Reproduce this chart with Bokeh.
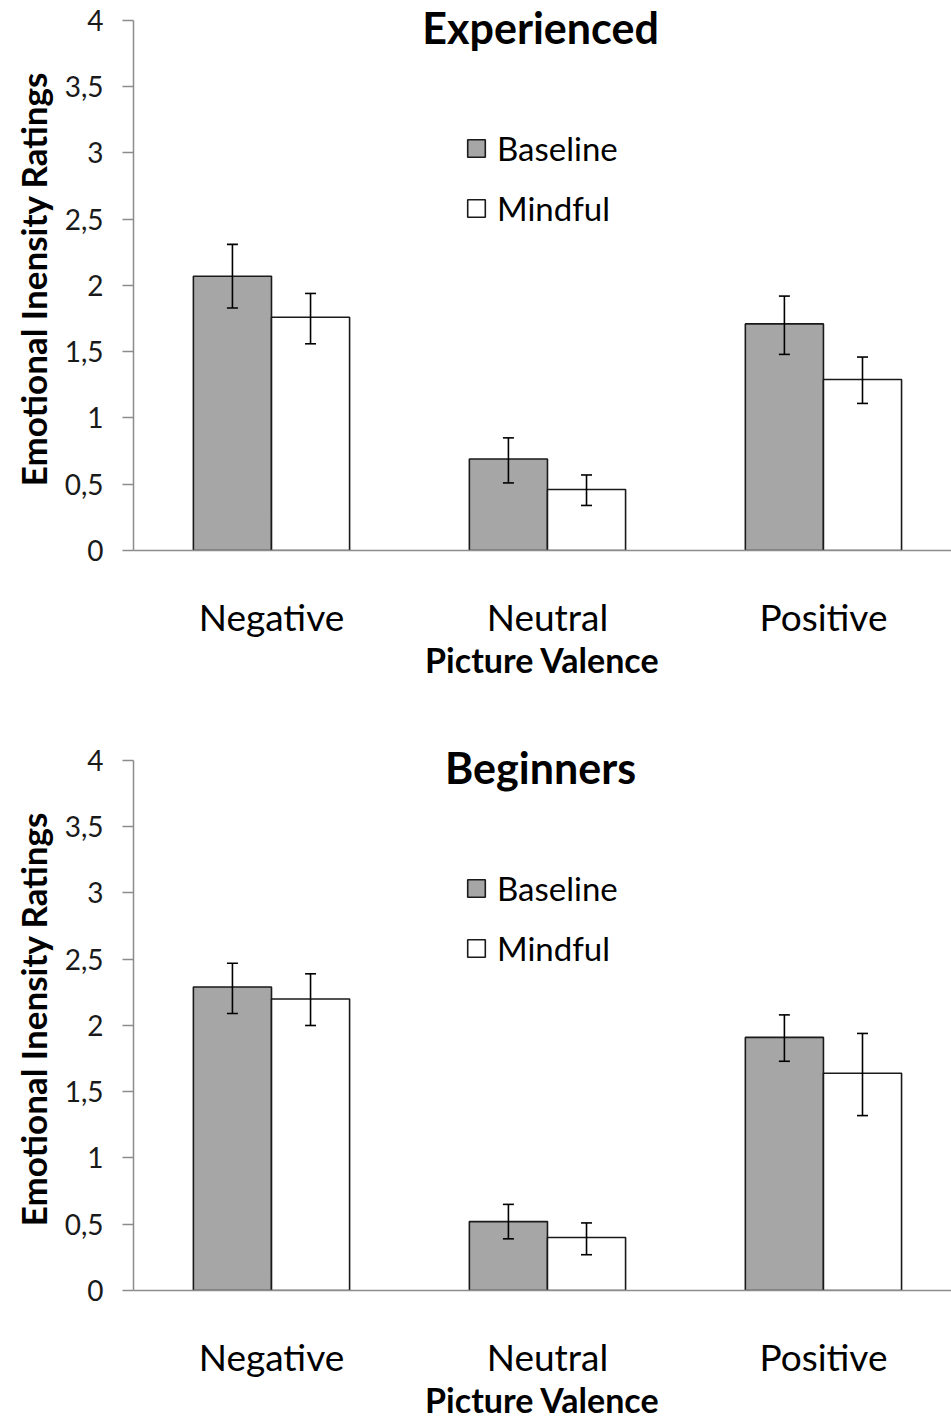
from bokeh.plotting import figure
from bokeh.layouts import column
from bokeh.models import (ColumnDataSource, Whisker, TeeHead, Legend, LegendItem,
                          FixedTicker, CustomJSTickFormatter, Label, Range1d)
from bokeh.embed import file_html
from bokeh.resources import INLINE
import numpy as np

categories = ["Negative", "Neutral", "Positive"]
series = ["Baseline", "Mindful"]
y_ticks = [0, 0.5, 1, 1.5, 2, 2.5, 3, 3.5, 4]

exp_baseline = [2.07, 0.69, 1.71]
exp_baseline_lo = [1.83, 0.51, 1.48]
exp_baseline_hi = [2.31, 0.85, 1.92]
exp_mindful = [1.76, 0.46, 1.29]
exp_mindful_lo = [1.56, 0.34, 1.11]
exp_mindful_hi = [1.94, 0.57, 1.46]

beg_baseline = [2.29, 0.52, 1.91]
beg_baseline_lo = [2.09, 0.39, 1.73]
beg_baseline_hi = [2.47, 0.65, 2.08]
beg_mindful = [2.20, 0.40, 1.64]
beg_mindful_lo = [2.00, 0.27, 1.32]
beg_mindful_hi = [2.39, 0.51, 1.94]

FONT = "Lato"
BAR_W = 0.283
OFFSET = BAR_W / 2
Y_TOP = 4.098  # a little headroom above 4 so the title fits inside the frame


def make_chart(title, base, base_lo, base_hi, mind, mind_lo, mind_hi,
               height, top_border, bottom_border):
    centers = np.arange(len(categories)) + 0.5
    p = figure(width=951, height=height, output_backend="svg",
               toolbar_location=None, min_border_left=133, min_border_right=0,
               min_border_top=top_border, min_border_bottom=bottom_border,
               x_range=Range1d(0, 2.964), y_range=Range1d(0, Y_TOP))
    p.outline_line_color = None
    p.grid.visible = False
    p.background_fill_color = "white"

    src_b = ColumnDataSource(dict(x=centers - OFFSET, top=base, lo=base_lo, hi=base_hi))
    src_m = ColumnDataSource(dict(x=centers + OFFSET, top=mind, lo=mind_lo, hi=mind_hi))

    rb = p.vbar(x="x", top="top", bottom=0, width=BAR_W, source=src_b,
                fill_color="#a6a6a6", line_color="#1a1a1a", line_width=1.6)
    rm = p.vbar(x="x", top="top", bottom=0, width=BAR_W, source=src_m,
                fill_color="white", line_color="#1a1a1a", line_width=1.6)

    for src in (src_b, src_m):
        w = Whisker(base="x", lower="lo", upper="hi", source=src, level="overlay",
                    line_color="black", line_width=1.6,
                    upper_head=TeeHead(size=11, line_color="black", line_width=1.6),
                    lower_head=TeeHead(size=11, line_color="black", line_width=1.6))
        p.add_layout(w)

    # axes
    p.xaxis.ticker = FixedTicker(ticks=list(centers))
    p.xaxis.major_label_overrides = {float(c): n for c, n in zip(centers, categories)}
    p.xaxis.major_tick_line_color = None
    p.xaxis.major_tick_out = 0
    p.xaxis.major_tick_in = 0
    p.xaxis.minor_tick_line_color = None
    p.xaxis.axis_line_color = "#8c8c8c"
    p.xaxis.axis_line_width = 1.5
    p.xaxis.major_label_text_font = FONT
    p.xaxis.major_label_text_font_size = "37px"
    p.xaxis.major_label_text_color = "black"
    p.xaxis.major_label_standoff = 43
    p.xaxis.axis_label = "Picture Valence"
    p.xaxis.axis_label_text_font = FONT
    p.xaxis.axis_label_text_font_style = "bold"
    p.xaxis.axis_label_text_font_size = "34px"
    p.xaxis.axis_label_text_color = "black"
    p.xaxis.axis_label_standoff = -3

    p.yaxis.ticker = FixedTicker(ticks=y_ticks)
    p.yaxis.bounds = (0, 4)
    p.yaxis.formatter = CustomJSTickFormatter(code="return tick.toString().replace('.', ',');")
    p.yaxis.minor_tick_line_color = None
    p.yaxis.major_tick_in = 0
    p.yaxis.major_tick_out = 11
    p.yaxis.major_tick_line_color = "#8c8c8c"
    p.yaxis.major_tick_line_width = 1.5
    p.yaxis.axis_line_color = "#8c8c8c"
    p.yaxis.axis_line_width = 1.5
    p.yaxis.major_label_text_font = FONT
    p.yaxis.major_label_text_font_size = "28px"
    p.yaxis.major_label_text_color = "#1a1a1a"
    p.yaxis.major_label_standoff = 19
    p.yaxis.axis_label = "Emotional Inensity Ratings"
    p.yaxis.axis_label_text_font = FONT
    p.yaxis.axis_label_text_font_style = "bold"
    p.yaxis.axis_label_text_font_size = "35px"
    p.yaxis.axis_label_text_color = "black"
    p.yaxis.axis_label_standoff = 8

    p.add_layout(Label(x=1.475, y=3.95, text=title, text_font=FONT,
                       text_font_style="bold", text_font_size="43px",
                       text_align="center", text_baseline="middle",
                       text_color="black"))

    legend = Legend(items=[LegendItem(label=series[0], renderers=[rb]),
                           LegendItem(label=series[1], renderers=[rm])],
                    location=(332, 322), orientation="vertical",
                    glyph_width=22, glyph_height=22, label_height=22,
                    label_standoff=10, spacing=20, padding=0, margin=0,
                    border_line_color=None, background_fill_alpha=0,
                    label_text_font=FONT, label_text_font_size="33px",
                    label_text_color="black", label_text_baseline="middle")
    p.add_layout(legend, "center")
    return p


p1 = make_chart("Experienced", exp_baseline, exp_baseline_lo, exp_baseline_hi,
                exp_mindful, exp_mindful_lo, exp_mindful_hi,
                height=740, top_border=7, bottom_border=190)
p2 = make_chart("Beginners", beg_baseline, beg_baseline_lo, beg_baseline_hi,
                beg_mindful, beg_mindful_lo, beg_mindful_hi,
                height=682, top_border=7, bottom_border=132)

layout = column(p1, p2, spacing=0)
open("out.html", "w").write(file_html(layout, INLINE))
